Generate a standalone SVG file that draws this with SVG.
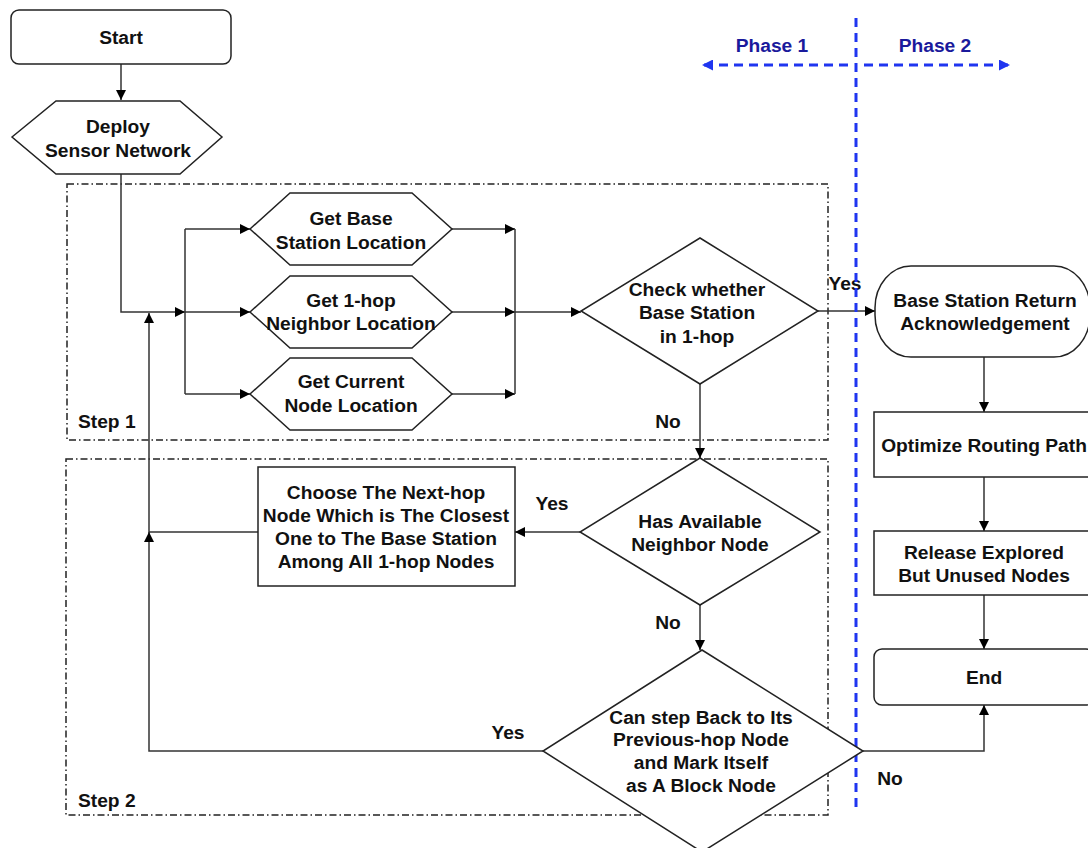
<svg xmlns="http://www.w3.org/2000/svg" width="1088" height="848" viewBox="0 0 1088 848">
  <defs>
    <marker id="arrow" viewBox="0 0 10 10" refX="10" refY="5" markerWidth="10" markerHeight="10" markerUnits="userSpaceOnUse" orient="auto">
      <path d="M0,0 L10,5 L0,10 Z" fill="#000"/>
    </marker>
    <marker id="blueArrow" viewBox="0 0 10 10" refX="10" refY="5" markerWidth="11" markerHeight="11" markerUnits="userSpaceOnUse" orient="auto">
      <path d="M0,0 L10,5 L0,10 Z" fill="#1f35f0"/>
    </marker>
    <style>
      .shape { fill: #fff; stroke: #222; stroke-width: 1.5; }
      .edge { fill: none; stroke: #333; stroke-width: 1.5; }
      .arrow { marker-end: url(#arrow); }
      .frame { fill: none; stroke: #222; stroke-width: 1.5; stroke-dasharray: 7 3 1.5 3; }
      .phase { fill: none; stroke: #1f35f0; stroke-width: 3; stroke-dasharray: 9 6; }
      text { font-family: "Liberation Sans", Arial, sans-serif; font-size: 19.2px; font-weight: bold; fill: #111; text-anchor: middle; }
      .left { text-anchor: start; }
      .phaseText { fill: #1a1a9c; }
    </style>
  </defs>

  <!-- step frames -->
  <g id="step1-frame">
    <rect class="frame" x="67" y="184" width="761" height="256"/>
    <text class="left" x="78" y="428">Step 1</text>
  </g>
  <g id="step2-frame">
    <rect class="frame" x="66" y="459" width="762" height="356"/>
    <text class="left" x="78" y="807">Step 2</text>
  </g>

  <!-- connectors -->
  <g id="connectors">
    <path class="edge arrow" d="M121,64 L121,100"/>
    <path class="edge arrow" d="M121,174 L121,312 L185,312"/>
    <path class="edge" d="M185,229 L185,394"/>
    <path class="edge arrow" d="M185,229 L250,229"/>
    <path class="edge arrow" d="M185,312 L250,312"/>
    <path class="edge arrow" d="M185,394 L250,394"/>
    <path class="edge arrow" d="M452,229 L515,229"/>
    <path class="edge arrow" d="M452,312 L515,312"/>
    <path class="edge arrow" d="M452,394 L515,394"/>
    <path class="edge" d="M515,229 L515,394"/>
    <path class="edge arrow" d="M515,312 L581,312"/>
    <path class="edge arrow" d="M818,311 L875,311"/>
    <path class="edge arrow" d="M700,384 L700,458"/>
    <path class="edge arrow" d="M580,532 L515,532"/>
    <path class="edge arrow" d="M258,532 L149,532 L149,313"/>
    <path class="edge arrow" d="M543,751 L149,751 L149,532"/>
    <path class="edge arrow" d="M700,605 L700,650"/>
    <path class="edge arrow" d="M863,751 L984,751 L984,705"/>
    <path class="edge arrow" d="M984,357 L984,412"/>
    <path class="edge arrow" d="M984,477 L984,531"/>
    <path class="edge arrow" d="M984,595 L984,649"/>
    <text x="845" y="290">Yes</text>
    <text x="668" y="428">No</text>
    <text x="552" y="510">Yes</text>
    <text x="668" y="629">No</text>
    <text x="508" y="739">Yes</text>
    <text x="890" y="785">No</text>
  </g>

  <!-- phase divider -->
  <g id="phase-divider">
    <path class="phase" d="M856,18 L856,810"/>
    <path class="phase" d="M848,65 L702,65" marker-end="url(#blueArrow)" stroke-dasharray="8 6"/>
    <path class="phase" d="M864,65 L1010,65" marker-end="url(#blueArrow)" stroke-dasharray="8 6"/>
    <text class="phaseText" x="772" y="52">Phase 1</text>
    <text class="phaseText" x="935" y="52">Phase 2</text>
  </g>

  <g id="start">
    <rect class="shape" x="11" y="10" width="220" height="54" rx="8"/>
    <text x="121" y="44">Start</text>
  </g>

  <g id="deploy">
    <polygon class="shape" points="12,137 56,101 180,101 222,137 180,174 56,174"/>
    <text x="118" y="133">Deploy</text>
    <text x="118" y="157">Sensor Network</text>
  </g>

  <g id="get-base">
    <polygon class="shape" points="250,229 290,193 412,193 452,229 412,265 290,265"/>
    <text x="351" y="225">Get Base</text>
    <text x="351" y="249">Station Location</text>
  </g>

  <g id="get-neighbor">
    <polygon class="shape" points="250,312 290,276 412,276 452,312 412,348 290,348"/>
    <text x="351" y="307">Get 1-hop</text>
    <text x="351" y="330">Neighbor Location</text>
  </g>

  <g id="get-current">
    <polygon class="shape" points="250,394 290,358 412,358 452,394 412,430 290,430"/>
    <text x="351" y="388">Get Current</text>
    <text x="351" y="412">Node Location</text>
  </g>

  <g id="check-base">
    <polygon class="shape" points="700,238 818,311 700,384 581,311"/>
    <text x="697" y="296">Check whether</text>
    <text x="697" y="319">Base Station</text>
    <text x="697" y="343">in 1-hop</text>
  </g>

  <g id="has-neighbor">
    <polygon class="shape" points="700,458 820,532 700,605 580,532"/>
    <text x="700" y="528">Has Available</text>
    <text x="700" y="551">Neighbor Node</text>
  </g>

  <g id="choose-next">
    <rect class="shape" x="258" y="467" width="257" height="119"/>
    <text x="386" y="499">Choose The Next-hop</text>
    <text x="386" y="522">Node Which is The Closest</text>
    <text x="386" y="545">One to The Base Station</text>
    <text x="386" y="568">Among All 1-hop Nodes</text>
  </g>

  <g id="step-back">
    <polygon class="shape" points="702,650 863,751 702,852 543,751"/>
    <text x="701" y="724">Can step Back to Its</text>
    <text x="701" y="746">Previous-hop Node</text>
    <text x="701" y="769">and Mark Itself</text>
    <text x="701" y="792">as A Block Node</text>
  </g>

  <g id="base-ack">
    <rect class="shape" x="875" y="266" width="215" height="91" rx="36" ry="42"/>
    <text x="985" y="307">Base Station Return</text>
    <text x="985" y="330">Acknowledgement</text>
  </g>

  <g id="optimize">
    <rect class="shape" x="874" y="412" width="220" height="65"/>
    <text x="984" y="452">Optimize Routing Path</text>
  </g>

  <g id="release">
    <rect class="shape" x="874" y="531" width="220" height="64"/>
    <text x="984" y="559">Release Explored</text>
    <text x="984" y="582">But Unused Nodes</text>
  </g>

  <g id="end">
    <rect class="shape" x="874" y="649" width="220" height="56" rx="8"/>
    <text x="984" y="684">End</text>
  </g>
</svg>
